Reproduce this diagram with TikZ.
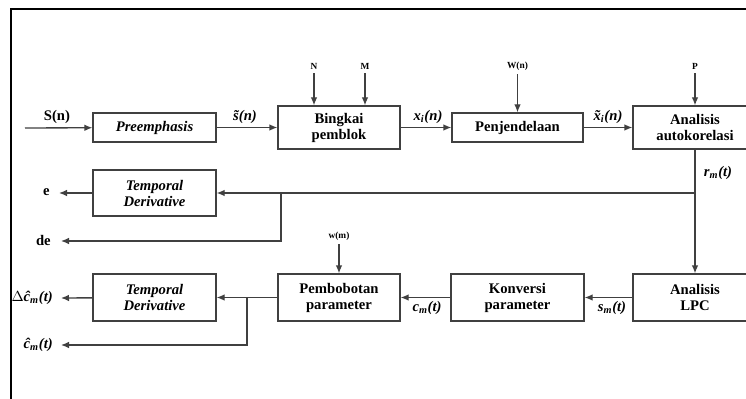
\documentclass[tikz,border=0pt]{standalone}
\usepackage{fontspec}
\setmainfont{Liberation Serif}
\usetikzlibrary{arrows.meta}

\begin{document}
\begin{tikzpicture}[x=0.75pt,y=-0.75pt]

  \tikzstyle{block} = [draw=black!75, line width=1pt, inner sep=0pt, align=center,
                       font=\fontsize{11}{12}\selectfont\bfseries]
  \tikzstyle{flow}  = [draw=black!75, line width=1pt, -{Latex[length=6pt,width=5pt]}]
  \tikzstyle{sig}   = [font=\fontsize{11}{12}\selectfont\bfseries\itshape, inner sep=0pt]
  \tikzstyle{plain} = [font=\fontsize{11}{12}\selectfont\bfseries, inner sep=0pt]
  \tikzstyle{par}   = [font=\fontsize{7}{8}\selectfont\bfseries, inner sep=0pt]

  \clip (0,0) rectangle (746,399);
  \fill[white] (0,0) rectangle (746,399);
  \draw[line width=1.5pt] (11,399) -- (11,9) -- (746,9);

  % upper chain
  \node[block, minimum width=92.25pt, minimum height=21.75pt] (pre) at (154.5,127.5) {\itshape Preemphasis};
  \node[block, minimum width=91.5pt, minimum height=32.25pt] (bing) at (339,127.5) {Bingkai\\pemblok};
  \node[block, minimum width=98.25pt, minimum height=21.75pt] (pen) at (517.5,127.5) {Penjendelaan};
  \node[block, minimum width=93pt, minimum height=32.25pt] (auto) at (695,127.5) {Analisis\\autokorelasi};

  % lower chain
  \node[block, minimum width=92.25pt, minimum height=34.5pt] (td1) at (154.5,193) {\itshape Temporal\\\itshape Derivative};
  \node[block, minimum width=93pt, minimum height=35.25pt] (lpc) at (695,297.5) {Analisis\\LPC};
  \node[block, minimum width=99.75pt, minimum height=35.25pt] (konv) at (517.5,297.5) {Konversi\\parameter};
  \node[block, minimum width=91.5pt, minimum height=35.25pt] (bobot) at (339,297.5) {Pembobotan\\parameter};
  \node[block, minimum width=92.25pt, minimum height=35.25pt] (td2) at (154.5,297.5) {\itshape Temporal\\\itshape Derivative};

  % parameters
  \node[par] (N) at (314,66) {N};
  \node[par] (M) at (365,66) {M};
  \node[par] (W) at (517.5,66) {W(n)};
  \node[par] (P) at (695,66) {P};
  \node[par] (wm) at (339,236) {w(m)};

  % outputs
  \node[plain, anchor=east] (e) at (50,192) {e};
  \node[plain, anchor=east] (de) at (51,240) {de};
  \node[sig, anchor=east] (dc) at (53,298) {$\Delta$\^{c}\textsubscript{m}(t)};
  \node[sig, anchor=east] (ch) at (53,345) {\^{c}\textsubscript{m}(t)};

  \coordinate (in) at (25,128);
  \coordinate (j1) at (281,193);
  \coordinate (j2) at (247,298);
  \coordinate (eo) at (59,193);
  \coordinate (deo) at (61,241);
  \coordinate (dco) at (61,298);
  \coordinate (cho) at (61,345);

  % signal labels
  \node[plain] at (57,117) {S(n)};
  \node[sig] at (245,117) {\~{s}(n)};
  \node[sig] at (428,117) {x\textsubscript{i}(n)};
  \node[sig] at (608,117) {\~{x}\textsubscript{i}(n)};
  \node[sig] at (718,173) {r\textsubscript{m}(t)};
  \node[sig] at (612,308) {s\textsubscript{m}(t)};
  \node[sig] at (427,308) {c\textsubscript{m}(t)};

  \draw[flow] (in) -- (pre);
  \draw[flow] (pre) -- (bing);
  \draw[flow] (bing.east |- pen) -- (pen);
  \draw[flow] (pen) -- (auto.west |- pen);
  \draw[flow] (N.south) ++(0,4) -- (N.south |- bing.north);
  \draw[flow] (M.south) ++(0,4) -- (M.south |- bing.north);
  \draw[flow] (W.south) ++(0,4) -- (pen);
  \draw[flow] (P.south) ++(0,4) -- (auto);

  \draw[flow] (auto) -- (lpc);
  \draw[flow] (auto.south |- td1) -- (td1);
  \draw[flow] (j1) |- (deo);
  \draw[flow] (td1) -- (eo);

  \draw[flow] (lpc) -- (konv);
  \draw[flow] (konv) -- (bobot);
  \draw[flow] (wm.south) ++(0,4) -- (bobot);
  \draw[flow] (bobot) -- (td2);
  \draw[flow] (j2) |- (cho);
  \draw[flow] (td2) -- (dco);

\end{tikzpicture}
\end{document}
